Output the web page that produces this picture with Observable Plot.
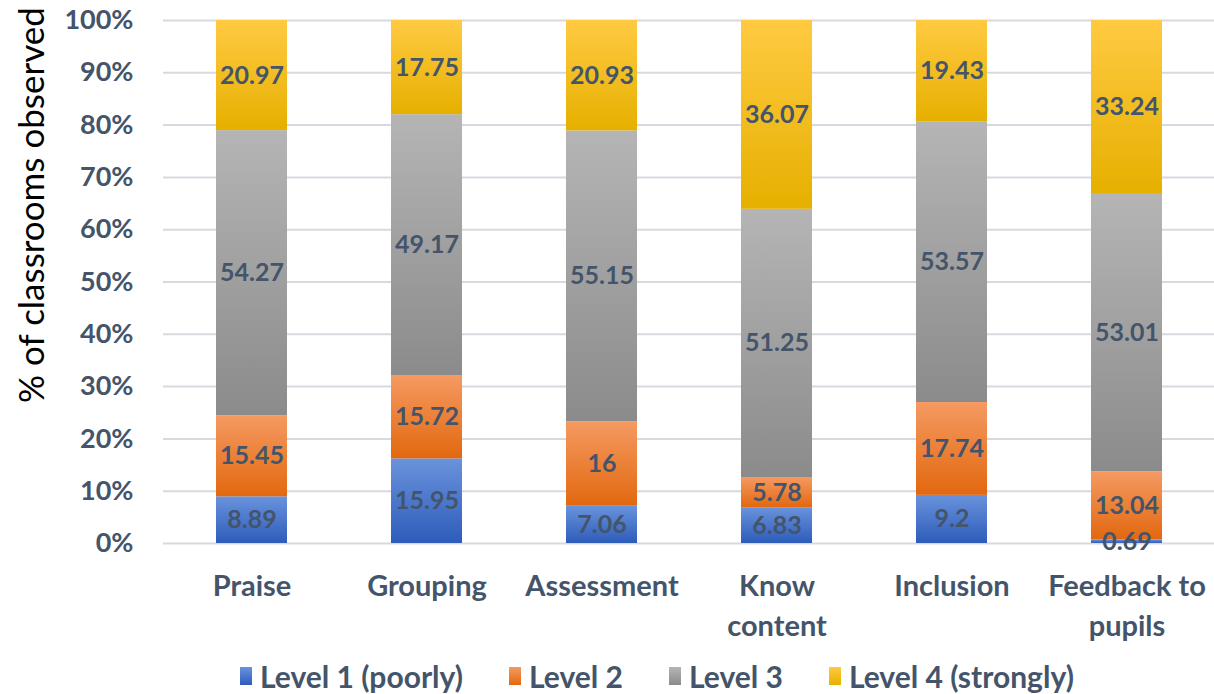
<!DOCTYPE html>
<html>
<head>
<meta charset="utf-8">
<script src="https://cdn.jsdelivr.net/npm/d3@7"></script>
<script src="https://cdn.jsdelivr.net/npm/@observablehq/plot@0.6"></script>
<style>
  html, body { margin: 0; padding: 0; background: #fff; }
  body { width: 1214px; height: 694px; overflow: hidden; font-family: Lato, "Open Sans", sans-serif; position: relative; }
  #chart { position: relative; }
  #ytitle { position: absolute; left: 30px; top: 205px; transform: translate(-50%, -50%) rotate(-90deg); white-space: nowrap; font-size: 35px; color: #000; font-weight: 400; }
  #legend { display: flex; align-items: center; margin-left: 240px; margin-top: 4px; height: 44px; color: #44546A; font-weight: 700; font-size: 30px; }
  #legend .item { display: flex; align-items: center; margin-right: 46px; }
  #legend .sw { width: 12px; height: 18px; margin-right: 8px; }
</style>
</head>
<body>
<div id="chart"></div>
<div id="legend"></div>
<div id="ytitle">% of classrooms observed</div>
<script>
const categories = ["Praise", "Grouping", "Assessment", "Know content", "Inclusion", "Feedback to pupils"];
const categoryLabels = ["Praise", "Grouping", "Assessment", "Know\ncontent", "Inclusion", "Feedback to\npupils"];
const levels = ["Level 1 (poorly)", "Level 2", "Level 3", "Level 4 (strongly)"];
const level1 = [8.89, 15.95, 7.06, 6.83, 9.2, 0.69];
const level2 = [15.45, 15.72, 16, 5.78, 17.74, 13.04];
const level3 = [54.27, 49.17, 55.15, 51.25, 53.57, 53.01];
const level4 = [20.97, 17.75, 20.93, 36.07, 19.43, 33.24];
const yTicks = [0, 0.1, 0.2, 0.3, 0.4, 0.5, 0.6, 0.7, 0.8, 0.9, 1];

const gradients = [
  ["#6a93dc", "#2d5cba"],
  ["#f59a62", "#e2680f"],
  ["#b5b5b5", "#8b8b8b"],
  ["#ffca42", "#e6b000"]
];
const textColor = "#44546A";
const gridColor = "#d6dae0";

const series = [level1, level2, level3, level4];
const data = [];
levels.forEach((lv, li) => {
  categories.forEach((c, ci) => {
    data.push({category: c, level: lv, li, value: series[li][ci]});
  });
});

const stackOpts = {x: "category", y: "value", z: "level", offset: "normalize"};

const plot = Plot.plot({
  width: 1214,
  height: 650,
  marginLeft: 163,
  marginRight: 0,
  marginTop: 20,
  marginBottom: 107,
  style: {fontFamily: "Lato, 'Open Sans', sans-serif"},
  x: {domain: categories, padding: 0.595, paddingOuter: 0.2975, align: 0.5},
  y: {domain: [0, 1]},
  marks: [
    Plot.ruleY(yTicks, {stroke: gridColor, strokeWidth: 2}),
    Plot.barY(data, Plot.stackY({...stackOpts, fill: "level"})),
    Plot.text(data, Plot.stackY({...stackOpts, text: d => String(d.value), fill: textColor, fontSize: 25, fontWeight: "bold"})),
    Plot.axisY(yTicks, {tickSize: 0, tickPadding: 30, tickFormat: d3.format(".0%"), fontSize: 27, fontWeight: "bold", fill: textColor, label: null}),
    Plot.axisX({tickSize: 0, tickPadding: 24, tickFormat: (d) => categoryLabels[categories.indexOf(d)], fontSize: 29, fontWeight: "bold", fill: textColor, lineHeight: 1.38, label: null})
  ],
  color: {domain: levels, range: levels.map((l, i) => `url(#grad${i})`)}
});

const svg = d3.select(plot);
const defs = svg.insert("defs", ":first-child");
gradients.forEach((g, i) => {
  const lg = defs.append("linearGradient").attr("id", `grad${i}`).attr("x1", 0).attr("y1", 0).attr("x2", 0).attr("y2", 1);
  lg.append("stop").attr("offset", "0%").attr("stop-color", g[0]);
  lg.append("stop").attr("offset", "100%").attr("stop-color", g[1]);
});

document.getElementById("chart").appendChild(plot);

const legend = document.getElementById("legend");
levels.forEach((lv, i) => {
  const item = document.createElement("div");
  item.className = "item";
  const sw = document.createElement("div");
  sw.className = "sw";
  sw.style.background = `linear-gradient(${gradients[i][0]}, ${gradients[i][1]})`;
  const t = document.createElement("span");
  t.textContent = lv;
  item.appendChild(sw);
  item.appendChild(t);
  legend.appendChild(item);
});
</script>
</body>
</html>
